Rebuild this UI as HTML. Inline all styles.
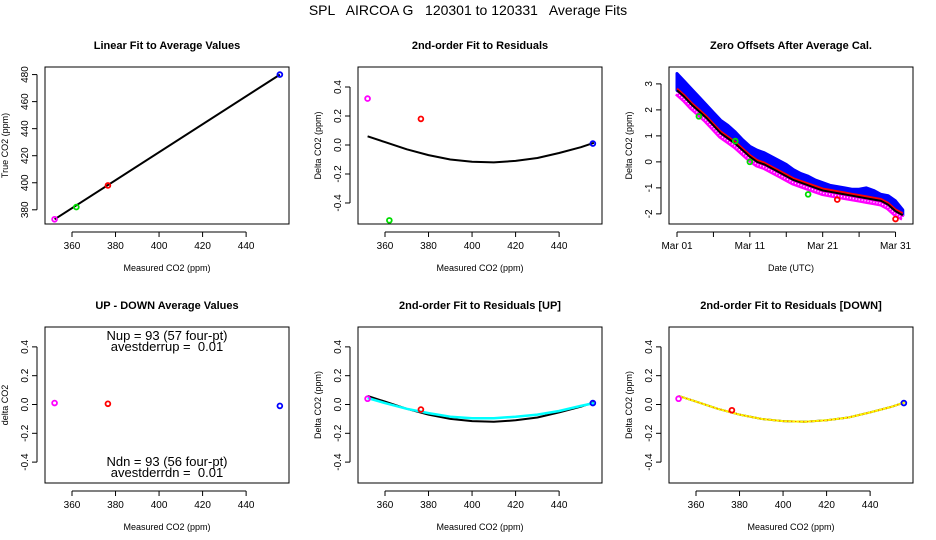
<!DOCTYPE html>
<html><head><meta charset="utf-8"><style>
body{margin:0;background:#fff}
svg{display:block;font-family:"Liberation Sans",Arial,sans-serif}
text{white-space:pre}
</style></head><body>
<svg id="c" width="936" height="540" viewBox="0 0 936 540">
<text x="468" y="15" text-anchor="middle" font-size="14" xml:space="preserve">SPL   AIRCOA G   120301 to 120331   Average Fits</text>
</svg>
<script>
// ---- data ----
const p1Meas=[352,362,376.5,455.5];
const p1True=[373,382,398,480];
const p1Colors=['#ff00ff','#00dd00','#ff0000','#0000ff'];
const fitLineX=[352,455.5];
const fitLineY=[373,480];
const p2Resid=[0.32,-0.52,0.18,0.01];
const curveX=[352,360,370,380,390,400,410,420,430,440,450,456];
const curveBlack=[0.06,0.02,-0.03,-0.07,-0.10,-0.115,-0.12,-0.11,-0.09,-0.055,-0.015,0.015];
const curveCyan=[0.045,0.01,-0.03,-0.06,-0.085,-0.095,-0.095,-0.085,-0.07,-0.045,-0.01,0.01];
const curveDown=[0.06,0.02,-0.03,-0.07,-0.10,-0.115,-0.12,-0.11,-0.09,-0.055,-0.015,0.015];
const udMeas=[352,376.5,455.5];
const udColors=['#ff00ff','#ff0000','#0000ff'];
const udDelta=[0.01,0.005,-0.01];
const upResid=[0.04,-0.035,0.01];
const dnResid=[0.04,-0.04,0.01];
const days=[0,1,2,3,4,5,6,7,8,9,10,11,12,13,14,15,16,17,18,19,20,21,22,23,24,25,26,27,28,29,30,31];
const zeroBlack=[2.75,2.5,2.2,1.95,1.7,1.4,1.1,0.9,0.7,0.45,0.2,0.0,-0.1,-0.25,-0.4,-0.55,-0.7,-0.8,-0.9,-1.0,-1.1,-1.15,-1.2,-1.25,-1.3,-1.35,-1.4,-1.45,-1.5,-1.65,-1.9,-2.05];
const zeroBlue=[3.4,3.1,2.8,2.5,2.2,1.9,1.6,1.4,1.15,0.85,0.6,0.45,0.35,0.2,0.05,-0.1,-0.3,-0.45,-0.55,-0.7,-0.8,-0.9,-0.95,-1.0,-1.05,-1.05,-1.0,-1.1,-1.25,-1.3,-1.5,-1.85];
const greenDays=[3,8,10,18];
const greenVals=[1.75,0.8,0.0,-1.25];
const redDays=[22,30];
const redVals=[-1.45,-2.2];
const xTicks=[360,380,400,420,440];
const dateTicks=[0,5,10,15,20,25,30];
const dateLabels=['Mar 01','','Mar 11','','Mar 21','','Mar 31'];

const svg=document.getElementById('c');
const NS='http://www.w3.org/2000/svg';
function mk(tag,attrs,parent){const e=document.createElementNS(NS,tag);for(const k in attrs)e.setAttribute(k,attrs[k]);(parent||svg).appendChild(e);return e;}
function txt(s,attrs,parent){const e=mk('text',attrs,parent);e.textContent=s;return e;}

function panel(o){
  const g=mk('g',{});
  
  
  const sx=v=>o.x0+(v-o.xmin)/(o.xmax-o.xmin)*(o.x1-o.x0);
  const sy=v=>o.y1-(v-o.ymin)/(o.ymax-o.ymin)*(o.y1-o.y0);
  const t=txt(o.title,{x:(o.x0+o.x1)/2,y:o.y0-18,'text-anchor':'middle','font-size':11,'font-weight':'bold'},g);
  
  
  const box=mk('rect',{x:o.x0,y:o.y0,width:o.x1-o.x0,height:o.y1-o.y0,fill:'none',stroke:'#000','stroke-width':1},g);
  
  
  const xt=o.xticks;
  const ay=o.y1+8;
  mk('line',{x1:sx(xt[0]),x2:sx(xt[xt.length-1]),y1:ay,y2:ay,stroke:'#000'},g);
  xt.forEach((v,i)=>{mk('line',{x1:sx(v),x2:sx(v),y1:ay,y2:ay+5,stroke:'#000'},g);
    const lab=o.xlabels?o.xlabels[i]:String(v);
    if(lab){const l=txt(lab,{x:sx(v),y:ay+17,'text-anchor':'middle','font-size':10},g);
    
    }});
  const ax=o.x0-8;
  const yt=o.yticks;
  mk('line',{x1:ax,x2:ax,y1:sy(yt[0]),y2:sy(yt[yt.length-1]),stroke:'#000'},g);
  yt.forEach(v=>{mk('line',{x1:ax-5,x2:ax,y1:sy(v),y2:sy(v),stroke:'#000'},g);
    const l=txt(o.yfmt(v),{x:0,y:0,'text-anchor':'middle','font-size':10,transform:`translate(${ax-9},${sy(v)}) rotate(-90)`},g);
    
    });
  const xl=txt(o.xlab,{x:(o.x0+o.x1)/2,y:o.y1+47,'text-anchor':'middle','font-size':9},g);
  
  
  const yl=txt(o.ylab,{x:0,y:0,'text-anchor':'middle','font-size':9,transform:`translate(${o.x0-37},${(o.y0+o.y1)/2}) rotate(-90)`},g);
  
  
  return {g,sx,sy};
}
function pt(P,x,y,col,g){const c=mk('circle',{cx:P.sx(x),cy:P.sy(y),r:2.4,fill:'none',stroke:col,'stroke-width':1.8},g);
  
  return c;}
function curve(P,xs,ys,col,w,g,name,dash){const d=xs.map((x,i)=>(i?'L':'M')+P.sx(x).toFixed(1)+','+P.sy(ys[i]).toFixed(1)).join('');
  const p=mk('path',{d,fill:'none',stroke:col,'stroke-width':w,'stroke-linejoin':'round'},g);
  if(dash)p.setAttribute('stroke-dasharray',dash);
  
  return p;}
const fmt1=v=>v.toFixed(1);
const co=[45,358,669],cw=244;
const xr={xmin:347.6,xmax:459.7,xticks:xTicks,xlab:'Measured CO2 (ppm)'};
const resY={ymin:-0.545,ymax:0.538,yticks:[-0.4,-0.2,0,0.2,0.4],yfmt:fmt1};

// Panel 1
let P=panel(Object.assign({name:'linear-fit-panel',title:'Linear Fit to Average Values',x0:co[0],x1:co[0]+cw,y0:67,y1:224,ymin:369.5,ymax:485.6,yticks:[380,400,420,440,460,480],yfmt:v=>String(v),ylab:'True CO2 (ppm)'},xr));
curve(P,fitLineX,fitLineY,'#000',2,P.g,'fit-line');
p1Meas.forEach((m,i)=>pt(P,m,p1True[i],p1Colors[i],P.g));

// Panel 2
P=panel(Object.assign({name:'residual-fit-panel',title:'2nd-order Fit to Residuals',x0:co[1],x1:co[1]+cw,y0:67,y1:224,ylab:'Delta CO2 (ppm)'},xr,resY));
curve(P,curveX,curveBlack,'#000',2,P.g,'fit-curve');
p1Meas.forEach((m,i)=>pt(P,m,p2Resid[i],p1Colors[i],P.g));

// Panel 3
P=panel({name:'zero-offsets-panel',title:'Zero Offsets After Average Cal.',x0:co[2],x1:co[2]+cw,y0:67,y1:224,xmin:-1.1,xmax:32.4,ymin:-2.39,ymax:3.65,xticks:dateTicks,xlabels:dateLabels,yticks:[-2,-1,0,1,2,3],yfmt:v=>String(v),xlab:'Date (UTC)',ylab:'Delta CO2 (ppm)'});
{
 const up=days.map((d,i)=>P.sx(d).toFixed(1)+','+P.sy(zeroBlue[i]).toFixed(1));
 const lo=days.map((d,i)=>P.sx(d).toFixed(1)+','+P.sy(zeroBlack[i]).toFixed(1)).reverse();
 const band=mk('polygon',{points:up.concat(lo).join(' '),fill:'#0000ff',stroke:'#0000ff','stroke-width':3,'stroke-linejoin':'round'},P.g);
 
 
 curve(P,days,zeroBlack.map(v=>v-0.1),'#ff00ff',6,P.g,'magenta-offset-band');
 curve(P,days,zeroBlack.map(v=>v-0.1),'#ffffff',1.5,P.g,'magenta-band-highlight','1 2');
 curve(P,days,zeroBlack.map(v=>v+0.07),'#ff0000',2,P.g,'red-offset-line');
 curve(P,days,zeroBlack,'#000',2,P.g,'black-offset-line');
 greenDays.forEach((d,i)=>pt(P,d,greenVals[i],'#00dd00',P.g));
 redDays.forEach((d,i)=>pt(P,d,redVals[i],'#ff0000',P.g));
}

// Panel 4
P=panel(Object.assign({name:'up-down-panel',title:'UP - DOWN Average Values',x0:co[0],x1:co[0]+cw,y0:327,y1:483,ylab:'delta CO2'},xr,resY));
udMeas.forEach((m,i)=>pt(P,m,udDelta[i],udColors[i],P.g));
[['Nup = 93 (57 four-pt)',340,'nup-annotation'],['avestderrup =  0.01',351,'avestderrup-annotation'],['Ndn = 93 (56 four-pt)',466,'ndn-annotation'],['avestderrdn =  0.01',477,'avestderrdn-annotation']].forEach(a=>{
 const t=txt(a[0],{x:167,y:a[1],'text-anchor':'middle','font-size':13},P.g);
 
 });

// Panel 5
P=panel(Object.assign({name:'up-residual-panel',title:'2nd-order Fit to Residuals [UP]',x0:co[1],x1:co[1]+cw,y0:327,y1:483,ylab:'Delta CO2 (ppm)'},xr,resY));
curve(P,curveX,curveBlack,'#000',2,P.g,'fit-curve');
curve(P,curveX,curveCyan,'#00ffff',2.5,P.g,'up-fit-curve');
udMeas.forEach((m,i)=>pt(P,m,upResid[i],udColors[i],P.g));

// Panel 6
P=panel(Object.assign({name:'down-residual-panel',title:'2nd-order Fit to Residuals [DOWN]',x0:co[2],x1:co[2]+cw,y0:327,y1:483,ylab:'Delta CO2 (ppm)'},xr,resY));
curve(P,curveX,curveBlack,'#000',2,P.g,'fit-curve');
curve(P,curveX,curveDown,'#ffff00',2,P.g,'down-fit-curve');
curve(P,curveX,curveDown,'#ff3300',1,P.g,'down-fit-curve-dots','1 3');
udMeas.forEach((m,i)=>pt(P,m,dnResid[i],udColors[i],P.g));
</script>
</body></html>
